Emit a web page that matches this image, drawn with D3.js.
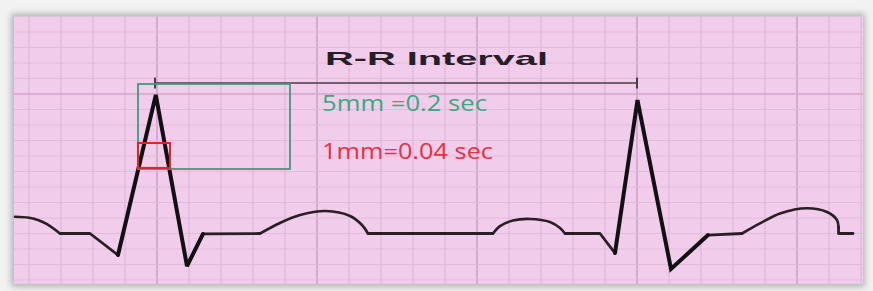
<!DOCTYPE html>
<html lang="en">
<head>
    <meta charset="UTF-8">
    <title>R-R Interval</title>
    <script src="https://d3js.org/d3.v7.min.js"></script>
    <style>
        body {
            margin: 0;
            padding: 0;
            background-color: #f2f2f2;
        }
        svg {
            display: block;
        }
    </style>
</head>
<body>
    <div id="chart"></div>

    <script>
        const width = 873;
        const height = 291;

        // time in seconds (1 small box = 0.04 s), amplitude in mm above the baseline
        const tWaveTail = [[0.0225, 1.08], [0.04, 1.02], [0.052, 0.86], [0.0625, 0.6], [0.07875, 0]];
        const tWave1 = [[0.32875, 0], [0.35375, 0.68], [0.37875, 1.19], [0.41125, 1.45], [0.44125, 1.13], [0.45625, 0.55], [0.46375, 0]];
        const pWave = [[0.62, 0], [0.62875, 0.48], [0.645, 0.84], [0.66625, 0.94], [0.69125, 0.74], [0.70375, 0.35], [0.71, 0]];
        const tWave2 = [[0.93125, 0], [0.95375, 0.65], [0.97875, 1.29], [1.0125, 1.63], [1.0375, 1.39], [1.05, 0.87], [1.0519, 0.42]];

        const qrs1 = [[0.15125, -1.39], [0.1985, 8.94], [0.2375, -2.1], [0.2575, -0.03]];
        const qrs2 = [[0.7725, -1.26], [0.8006, 8.61], [0.8425, -2.29], [0.88875, -0.1]];

        const baselines = [
            [[0.07875, 0], [0.11625, 0], [0.15125, -1.39]],
            [[0.2575, -0.03], [0.32875, 0]],
            [[0.46375, 0], [0.62, 0]],
            [[0.71, 0], [0.75375, 0], [0.7725, -1.26]],
            [[0.88875, -0.1], [0.93125, 0]],
            [[1.0519, 0.42], [1.0519, 0], [1.07, 0]]
        ];

        // annotations
        const rrInterval = [0.1975, 0.8];
        const rrLevel = 9.71;
        const bigBox = { t0: 0.17625, t1: 0.36625, a0: 4.16, a1: 9.645 };
        const smallBox = { t0: 0.17625, t1: 0.21625, a0: 4.23, a1: 5.84 };

        const paperTime = [0.02125, 1.0825];
        const paperAmp = [-3.25, 14.0];

        const xScale = d3.scaleLinear().domain([0, 1]).range([-3, 797]);
        const yScale = d3.scaleLinear().domain([0, 10]).range([233.5, 78.5]);

        const svg = d3.select("#chart")
            .append("svg")
            .attr("width", width)
            .attr("height", height);

        const defs = svg.append("defs");
        defs.append("filter")
            .attr("id", "shadow")
            .attr("x", "-5%").attr("y", "-10%")
            .attr("width", "110%").attr("height", "120%")
            .append("feGaussianBlur")
            .attr("stdDeviation", 3);

        // frame shadow
        svg.append("rect")
            .attr("x", xScale(paperTime[0]) - 3)
            .attr("y", yScale(paperAmp[1]) - 3)
            .attr("width", xScale(paperTime[1]) - xScale(paperTime[0]) + 5)
            .attr("height", yScale(paperAmp[0]) - yScale(paperAmp[1]) + 6)
            .attr("fill", "#b4b4b4")
            .attr("filter", "url(#shadow)");

        // paper
        svg.append("rect")
            .attr("x", xScale(paperTime[0]))
            .attr("y", yScale(paperAmp[1]))
            .attr("width", xScale(paperTime[1]) - xScale(paperTime[0]))
            .attr("height", yScale(paperAmp[0]) - yScale(paperAmp[1]))
            .attr("fill", "#f1cceb");

        // grid
        const grid = svg.append("g");
        const vTicks = d3.range(1, 28).map(i => i * 0.04);
        const hTicks = d3.range(-3, 14);

        grid.selectAll(".vline")
            .data(vTicks)
            .enter()
            .append("line")
            .attr("x1", d => xScale(d))
            .attr("x2", d => xScale(d))
            .attr("y1", yScale(paperAmp[1]))
            .attr("y2", yScale(paperAmp[0]))
            .attr("stroke", (d, i) => (i + 1) % 5 === 0 ? "#d0a2c8" : "#dfb7d9")
            .attr("stroke-width", (d, i) => (i + 1) % 5 === 0 ? 1.6 : 1.2);

        grid.selectAll(".hline")
            .data(hTicks)
            .enter()
            .append("line")
            .attr("x1", xScale(paperTime[0]))
            .attr("x2", xScale(paperTime[1]))
            .attr("y1", d => yScale(d))
            .attr("y2", d => yScale(d))
            .attr("stroke", d => d === 9 ? "#d4a7cc" : "#e1bcdb")
            .attr("stroke-width", d => d === 9 ? 1.5 : 1.1);

        // ECG trace
        const smoothLine = d3.line()
            .x(d => xScale(d[0]))
            .y(d => yScale(d[1]))
            .curve(d3.curveCatmullRom.alpha(0.5));

        const straightLine = d3.line()
            .x(d => xScale(d[0]))
            .y(d => yScale(d[1]));

        const trace = svg.append("g")
            .attr("fill", "none")
            .attr("stroke-linejoin", "round")
            .attr("stroke-linecap", "round");

        trace.selectAll(".wave")
            .data([tWaveTail, tWave1, pWave, tWave2])
            .enter()
            .append("path")
            .attr("d", smoothLine)
            .attr("stroke", "#2a1f27")
            .attr("stroke-width", 2.6);

        trace.selectAll(".base")
            .data(baselines)
            .enter()
            .append("path")
            .attr("d", straightLine)
            .attr("stroke", "#2a1f27")
            .attr("stroke-width", 2.8);

        trace.selectAll(".qrs")
            .data([qrs1, qrs2])
            .enter()
            .append("path")
            .attr("d", straightLine)
            .attr("stroke", "#111")
            .attr("stroke-width", 4)
            .attr("stroke-linejoin", "miter")
            .attr("stroke-miterlimit", 3);

        // R-R interval bracket
        const rr = svg.append("g").attr("stroke", "#4a3b46").attr("stroke-width", 1.5);
        rr.append("line")
            .attr("x1", xScale(rrInterval[0]))
            .attr("x2", xScale(rrInterval[1]))
            .attr("y1", yScale(rrLevel))
            .attr("y2", yScale(rrLevel));
        rr.selectAll(".tick")
            .data(rrInterval)
            .enter()
            .append("line")
            .attr("x1", d => xScale(d))
            .attr("x2", d => xScale(d))
            .attr("y1", yScale(rrLevel + 0.35))
            .attr("y2", yScale(rrLevel - 0.35))
            .attr("stroke-width", 2);

        // 5 mm and 1 mm boxes
        svg.append("rect")
            .attr("x", xScale(bigBox.t0))
            .attr("y", yScale(bigBox.a1))
            .attr("width", xScale(bigBox.t1) - xScale(bigBox.t0))
            .attr("height", yScale(bigBox.a0) - yScale(bigBox.a1))
            .attr("fill", "none")
            .attr("stroke", "#3f9b7d")
            .attr("stroke-width", 1.8);

        svg.append("rect")
            .attr("x", xScale(smallBox.t0))
            .attr("y", yScale(smallBox.a1))
            .attr("width", xScale(smallBox.t1) - xScale(smallBox.t0))
            .attr("height", yScale(smallBox.a0) - yScale(smallBox.a1))
            .attr("fill", "none")
            .attr("stroke", "#d8262b")
            .attr("stroke-width", 2);

        // labels
        svg.append("text")
            .attr("x", 325)
            .attr("y", 65)
            .attr("textLength", 223)
            .attr("lengthAdjust", "spacingAndGlyphs")
            .style("font-family", "'Liberation Sans', Arial, sans-serif")
            .style("font-weight", "bold")
            .style("font-size", "19px")
            .attr("fill", "#262026")
            .text("R-R Interval");

        svg.append("text")
            .attr("x", 322)
            .attr("y", 111)
            .attr("textLength", 165)
            .attr("lengthAdjust", "spacingAndGlyphs")
            .style("font-family", "'Open Sans', sans-serif")
            .style("font-size", "22px")
            .attr("fill", "#3aa97d")
            .text("5mm =0.2 sec");

        svg.append("text")
            .attr("x", 322)
            .attr("y", 159)
            .attr("textLength", 171)
            .attr("lengthAdjust", "spacingAndGlyphs")
            .style("font-family", "'Open Sans', sans-serif")
            .style("font-size", "22px")
            .attr("fill", "#ea2f3c")
            .text("1mm=0.04 sec");
    </script>
</body>
</html>
